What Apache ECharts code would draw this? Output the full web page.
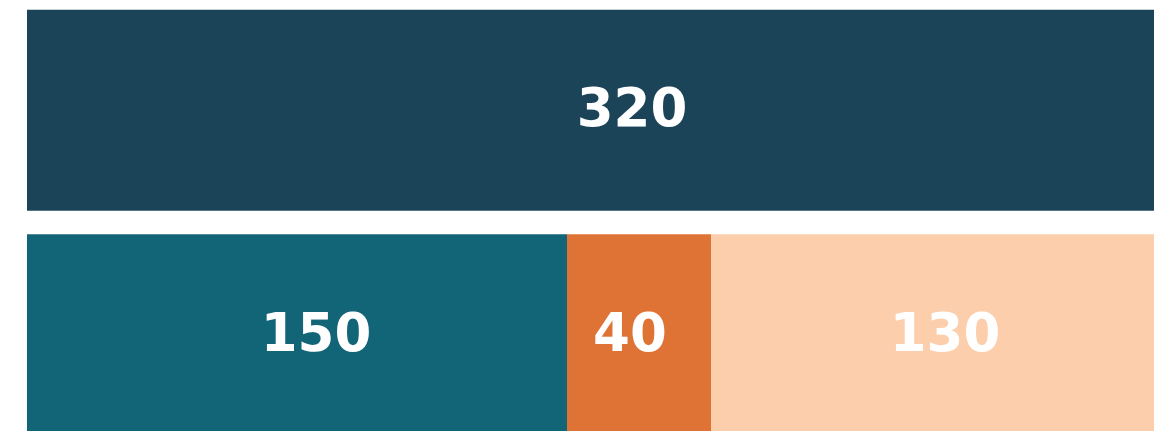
<!DOCTYPE html>
<html>
<head>
<meta charset="utf-8">
<style>
  html, body { margin: 0; padding: 0; background: #fff; }
  #main { width: 1154px; height: 431px; }
</style>
<script src="https://cdn.jsdelivr.net/npm/echarts@6/dist/echarts.min.js"></script>
</head>
<body>
<div id="main"></div>
<script>
var rows = ['total', 'parts'];
var totalVals = [320, '-'];
var partA = ['-', 150];
var partB = ['-', 40];
var partC = ['-', 130];

var colors = ['#1c4459', '#126576', '#de7335', '#fdceab'];
var labelShift = [[29, 2], [19, 2], [-9, 2], [0, 2]];

function makeSeries(name, data, idx) {
    return {
        name: name,
        type: 'bar',
        stack: 'all',
        barWidth: 201,
        data: data,
        itemStyle: { color: colors[idx] },
        label: {
            show: true,
            position: 'inside',
            offset: labelShift[idx],
            color: '#fff',
            fontFamily: 'DejaVu Sans',
            fontWeight: 'bold',
            fontSize: 53
        }
    };
}

var chart = echarts.init(document.getElementById('main'));
chart.setOption({
    animation: false,
    grid: { left: 27, width: 1152, top: -2, height: 449, outerBoundsMode: 'none' },
    xAxis: {
        type: 'value', min: 0, max: 320,
        show: false
    },
    yAxis: {
        type: 'category', data: rows, inverse: true,
        show: false
    },
    series: [
        makeSeries('total', totalVals, 0),
        makeSeries('a', partA, 1),
        makeSeries('b', partB, 2),
        makeSeries('c', partC, 3)
    ]
});
</script>
</body>
</html>
